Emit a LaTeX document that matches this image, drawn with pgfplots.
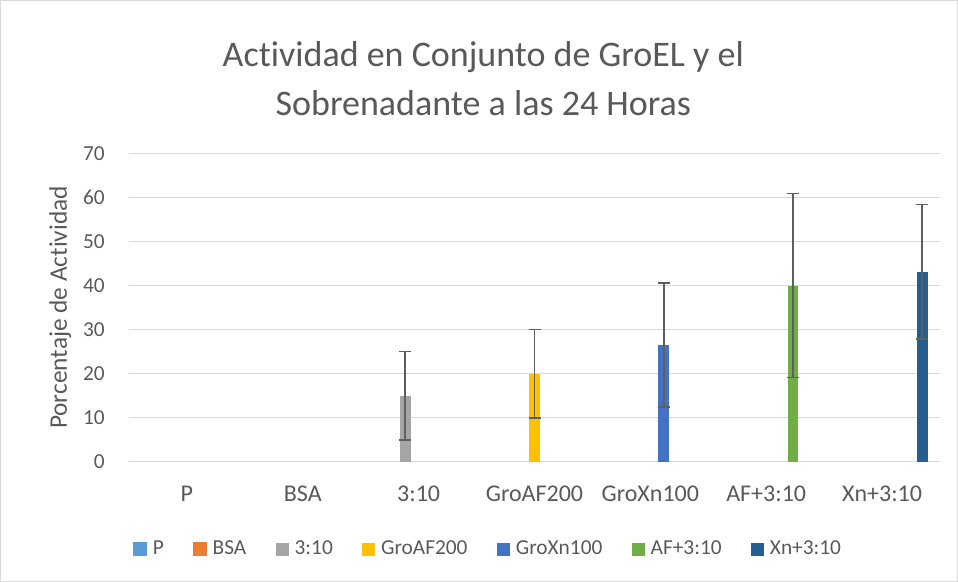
\documentclass[border=0pt]{standalone}
\usepackage{pgfplots}
\pgfplotsset{compat=1.18}
\usepackage{fontspec}
\setmainfont{Carlito}[Ligatures={NoCommon}]
\definecolor{txt}{HTML}{595959}
\definecolor{grd}{HTML}{D9D9D9}
\definecolor{cP}{HTML}{5B9BD5}
\definecolor{cBSA}{HTML}{ED7D31}
\definecolor{cA}{HTML}{A5A5A5}
\definecolor{cB}{HTML}{FFC000}
\definecolor{cC}{HTML}{4472C4}
\definecolor{cD}{HTML}{70AD47}
\definecolor{cE}{HTML}{255E91}
\definecolor{errc}{HTML}{5F5F5F}
\pgfplotsset{
  sq/.style={legend image code/.code={\fill[#1] (0pt,-4.875pt) rectangle (9.75pt,4.875pt);}},
  eb/.style={error bars/.cd, y dir=both, y explicit, error mark=|,
    error bar style={line width=1.4pt, draw=errc},
    error mark options={draw=errc, line width=1.3pt, mark size=4.5pt}},
}
\begin{document}
\begin{tikzpicture}
\path[use as bounding box] (0,0) rectangle (718.5pt,-436.5pt);
\draw[grd, line width=0.75pt] (0.375pt,-0.375pt) rectangle (718.125pt,-436.125pt);
\node[anchor=base, font=\fontsize{27}{32}\selectfont, text=txt, inner sep=0pt] at (362.5pt,-50pt) {Actividad en Conjunto de GroEL y el};
\node[anchor=base, font=\fontsize{27}{32}\selectfont, text=txt, inner sep=0pt] at (362.5pt,-86.25pt) {Sobrenadante a las 24 Horas};
\begin{axis}[
  at={(96.75pt,-346.3pt)}, anchor=south west,
  scale only axis, width=608.25pt, height=231.3pt,
  xmin=-0.5, xmax=6.5, ymin=0, ymax=70,
  ytick={0,10,...,70},
  xtick={0,...,6},
  xticklabels={P,BSA,3:10,GroAF200,GroXn100,AF+3:10,Xn+3:10},
  axis line style={draw=none},
  tick style={draw=none},
  ymajorgrids,
  major grid style={grd, line width=0.75pt},
  /pgf/number format/assume math mode=true,
  ticklabel style={text=txt},
  yticklabel style={anchor=east, inner sep=0pt, xshift=-18pt, font=\fontsize{16}{19}\selectfont},
  xticklabel style={anchor=base, inner sep=0pt, yshift=-30pt, font=\fontsize{18}{21}\selectfont},
  ylabel={Porcentaje de Actividad},
  ylabel style={at={(axis description cs:-0.0765,0.5)}, anchor=base, inner sep=0pt, font=\fontsize{19}{22}\selectfont, text=txt},
  legend columns=-1,
  legend style={at={(axis description cs:0.005,-0.283)}, anchor=west, draw=none, fill=none, inner sep=0pt,
    font=\fontsize{16}{19}\selectfont, text=txt,
    /tikz/every odd column/.append style={column sep=2.5pt},
    /tikz/every even column/.append style={column sep=20pt},
    nodes={inner xsep=2pt, inner ysep=0pt}},
]
\addlegendimage{sq=cP}
\addlegendentry{P}
\addlegendimage{sq=cBSA}
\addlegendentry{BSA}
\addplot[ybar, bar width=8pt, bar shift=0pt, fill=cA, draw=none, sq=cA, eb]
  coordinates {(1.8843,15) +- (0,10)};
\addlegendentry{3:10}
\addplot[ybar, bar width=8pt, bar shift=0pt, fill=cB, draw=none, sq=cB, eb]
  coordinates {(3,20) +- (0,10)};
\addlegendentry{GroAF200}
\addplot[ybar, bar width=8pt, bar shift=0pt, fill=cC, draw=none, sq=cC, eb]
  coordinates {(4.1157,26.5) +- (0,14.1)};
\addlegendentry{GroXn100}
\addplot[ybar, bar width=8pt, bar shift=0pt, fill=cD, draw=none, sq=cD, eb]
  coordinates {(5.2313,40) +- (0,20.9)};
\addlegendentry{AF+3:10}
\addplot[ybar, bar width=8pt, bar shift=0pt, fill=cE, draw=none, sq=cE, eb]
  coordinates {(6.347,43.1) +- (0,15.3)};
\addlegendentry{Xn+3:10}
\end{axis}
\end{tikzpicture}
\end{document}
